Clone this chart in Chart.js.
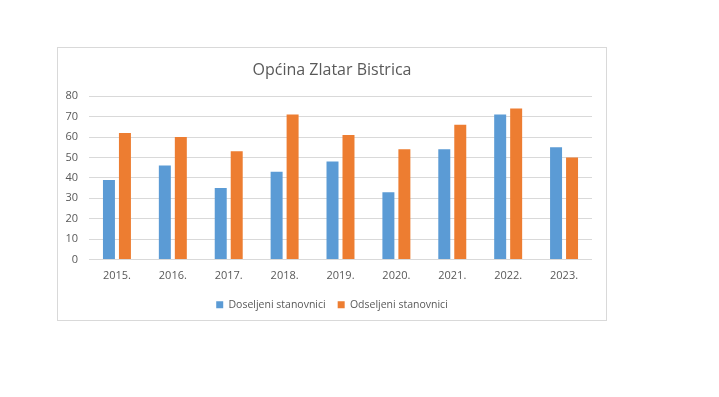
<!DOCTYPE html>
<html>
<head>
<meta charset="utf-8">
<script src="https://cdn.jsdelivr.net/npm/chart.js@4/dist/chart.umd.min.js"></script>
<style>
  html, body { margin: 0; padding: 0; background: #ffffff; }
  body { width: 719px; height: 397px; position: relative; overflow: hidden; }
  #box { position: absolute; left: 57px; top: 47px; width: 548px; height: 272px; border: 1px solid #d9d9d9; background: #fff; }
  canvas { display: block; }
</style>
</head>
<body>
<div id="box"><canvas id="c" width="548" height="272"></canvas></div>
<script>
const chartTitle = "Općina Zlatar Bistrica";
const categories = ["2015.", "2016.", "2017.", "2018.", "2019.", "2020.", "2021.", "2022.", "2023."];
const seriesNames = ["Doseljeni stanovnici", "Odseljeni stanovnici"];
const doseljeni = [39, 46, 35, 43, 48, 33, 54, 71, 55];
const odseljeni = [62, 60, 53, 71, 61, 54, 66, 74, 50];
const yTicks = [0, 10, 20, 30, 40, 50, 60, 70, 80];

const textColor = "#595959";
const fontFamily = "'Open Sans', 'Liberation Sans', sans-serif";

new Chart(document.getElementById("c"), {
  type: "bar",
  data: {
    labels: categories,
    datasets: [
      { label: seriesNames[0], data: doseljeni, backgroundColor: "#5B9BD5", borderWidth: 0 },
      { label: seriesNames[1], data: odseljeni, backgroundColor: "#ED7D31", borderWidth: 0 }
    ]
  },
  options: {
    responsive: false,
    animation: false,
    devicePixelRatio: 1,
    datasets: { bar: { categoryPercentage: 0.572, barPercentage: 0.75 } },
    layout: { padding: { left: 0, right: 0, top: 0, bottom: 0 } },
    plugins: {
      title: {
        display: true,
        text: chartTitle,
        color: textColor,
        font: { family: fontFamily, size: 16, weight: "normal" },
        padding: { top: 13, bottom: 16 }
      },
      legend: {
        position: "bottom",
        labels: {
          color: textColor,
          font: { family: fontFamily, size: 10.5 },
          boxWidth: 7,
          boxHeight: 7,
          padding: 12
        }
      },
      tooltip: { enabled: false }
    },
    scales: {
      x: {
        grid: { display: false, drawTicks: false },
        border: { display: false },
        ticks: { color: textColor, font: { family: fontFamily, size: 11 }, padding: 10 },
        afterFit: s => { s.height = 28; }
      },
      y: {
        min: 0, max: 80,
        afterBuildTicks: s => { s.ticks = yTicks.map(v => ({ value: v })); },
        grid: { color: "#d9d9d9", lineWidth: 1, drawTicks: false },
        border: { display: false },
        ticks: { color: textColor, font: { family: fontFamily, size: 11 }, padding: 11 },
        afterFit: s => { s.width = 31; }
      },
      yRight: {
        position: "right",
        display: true,
        grid: { display: false, drawTicks: false },
        border: { display: false },
        ticks: { display: false },
        afterFit: s => { s.width = 14; }
      }
    }
  }
});
</script>
</body>
</html>
